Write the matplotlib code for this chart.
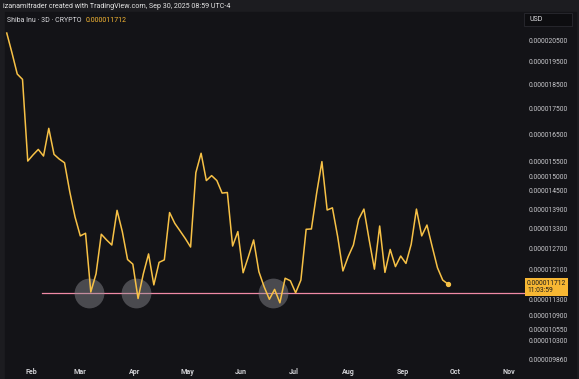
import matplotlib
matplotlib.use('Agg')
import matplotlib.pyplot as plt
import matplotlib.patches as patches
import matplotlib.transforms as mtransforms
import numpy as np
import pandas as pd

# 3-day closes, Shiba Inu (values in 1e-6 USD)
start_date = '2025-01-18'
close_e6 = [20.83, 19.90, 18.96, 18.73, 15.53, 15.75, 15.95, 15.71, 16.74, 15.77,
            15.60, 15.47, 14.47, 13.66, 13.08, 13.16, 11.50, 11.99, 13.13, 12.96,
            12.81, 13.87, 13.21, 12.39, 12.26, 11.33, 11.99, 12.55, 11.69, 12.31,
            12.38, 13.80, 13.46, 13.23, 13.00, 12.75, 15.12, 15.81, 14.85, 15.02,
            14.85, 14.43, 14.45, 12.78, 13.21, 12.02, 12.47, 12.96, 12.05, 11.64,
            11.31, 11.57, 11.22, 11.87, 11.80, 11.48, 11.82, 13.28, 13.29, 14.43,
            15.51, 13.88, 13.95, 13.06, 12.07, 12.47, 12.81, 13.59, 13.91, 12.96,
            12.12, 13.38, 12.03, 12.68, 12.19, 12.49, 12.28, 12.83, 13.91, 13.08,
            13.41, 12.76, 12.16, 11.82, 11.712]

support_level = 11.48e-6
support_start = '2025-02-07'
support_end = '2025-11-10'
touch_dates = ['2025-03-06', '2025-04-02', '2025-06-19']

price_ticks = [20500, 19500, 18500, 17500, 16500, 15500, 15000, 14500, 13900,
               13300, 12700, 12100, 11300, 10900, 10550, 10300, 9860]  # 1e-9 USD
month_ticks = ['2025-02-01', '2025-03-01', '2025-04-01', '2025-05-01', '2025-06-01',
               '2025-07-01', '2025-08-01', '2025-09-01', '2025-10-01', '2025-11-01']
month_labels = ['Feb', 'Mar', 'Apr', 'May', 'Jun', 'Jul', 'Aug', 'Sep', 'Oct', 'Nov']

last_price = '0.000011712'
countdown = '11:03:59'

dates = pd.date_range(start_date, periods=len(close_e6), freq='3D')
close = np.array(close_e6) * 1e-6

plt.rcParams['font.family'] = ['Roboto', 'DejaVu Sans']

W, H = 579, 379
fig = plt.figure(figsize=(W / 100, H / 100), dpi=100)
fig.patch.set_facecolor('#1c1c20')

panel_bg = '#131317'
fig.add_artist(patches.Rectangle((5 / W, 0), (W - 8) / W, (H - 12) / H,
                                 transform=fig.transFigure, color=panel_bg, zorder=0))

fig.text(3 / W, 1 - 6 / H, 'izanamitrader created with TradingView.com, Sep 30, 2025 08:59 UTC-4',
         color='#e6e6e6', fontsize=5.1, va='center', ha='left')

ax = fig.add_axes([5 / W, 15 / H, (525 - 5) / W, (364 - 12) / H])
ax.set_facecolor(panel_bg)
for s in ax.spines.values():
    s.set_visible(False)

ax.set_yscale('log')
ax.set_ylim(9.75e-6, 21.86e-6)

# support line and touch circles
ax.plot(pd.to_datetime([support_start, support_end]), [support_level, support_level],
        color='#f08aa6', lw=0.9, zorder=2)
ax.scatter(pd.to_datetime(touch_dates), [support_level] * len(touch_dates), s=460,
           color='#8e8e94', alpha=0.45, lw=0, zorder=3)

ax.plot(dates, close, color='#f7c146', lw=1.1, zorder=4)
ax.scatter(dates[-1:], close[-1:], s=8, color='#f7c146', zorder=5)
ax.set_xlim(pd.Timestamp('2025-01-17'), pd.Timestamp('2025-11-10'))

# axes ticks
ax.yaxis.tick_right()
ax.set_yticks([v * 1e-9 for v in price_ticks])
ax.set_yticklabels([f'{v * 1e-9:.9f}' for v in price_ticks])
ax.yaxis.set_minor_locator(matplotlib.ticker.NullLocator())
ax.tick_params(axis='y', length=0, pad=2.5, labelsize=4.9, labelcolor='#c8c8cc')
ax.set_xticks(pd.to_datetime(month_ticks))
ax.set_xticklabels(month_labels)
ax.tick_params(axis='x', length=0, pad=3, labelsize=5.1, labelcolor='#d0d0d4')
for t in ax.get_xticklabels():
    t.set_fontweight('bold')

# legend line at top-left
ax.text(2 / 520, 1 - 8 / 352, 'Shiba Inu · 3D · CRYPTO', transform=ax.transAxes,
        color='#d8d8dc', fontsize=5.0, va='center', ha='left')
ax.text(81 / 520, 1 - 8 / 352, last_price, transform=ax.transAxes,
        color='#f7b733', fontsize=5.0, va='center', ha='left')

# USD box
fig.add_artist(patches.Rectangle((524 / W, 1 - 26 / H), 48 / W, 13 / H, transform=fig.transFigure,
                                 facecolor='#0d0d10', edgecolor='#2a2a30', lw=0.6, zorder=1))
fig.text(530 / W, 1 - 19.5 / H, 'USD', color='#e0e0e4', fontsize=5.0, va='center', ha='left')

# last price tag
trans = mtransforms.blended_transform_factory(ax.transAxes, ax.transData)
ax.text(1 + 2 / 520, close[-1] * 0.993, f'{last_price}\n{countdown}', transform=trans,
        color='#1a1a1a', fontsize=4.9, va='center', ha='left', linespacing=1.05,
        bbox=dict(boxstyle='square,pad=0.3', fc='#f7b733', ec='none'), clip_on=False)

fig.savefig('out.png', dpi=100, facecolor=fig.get_facecolor())
